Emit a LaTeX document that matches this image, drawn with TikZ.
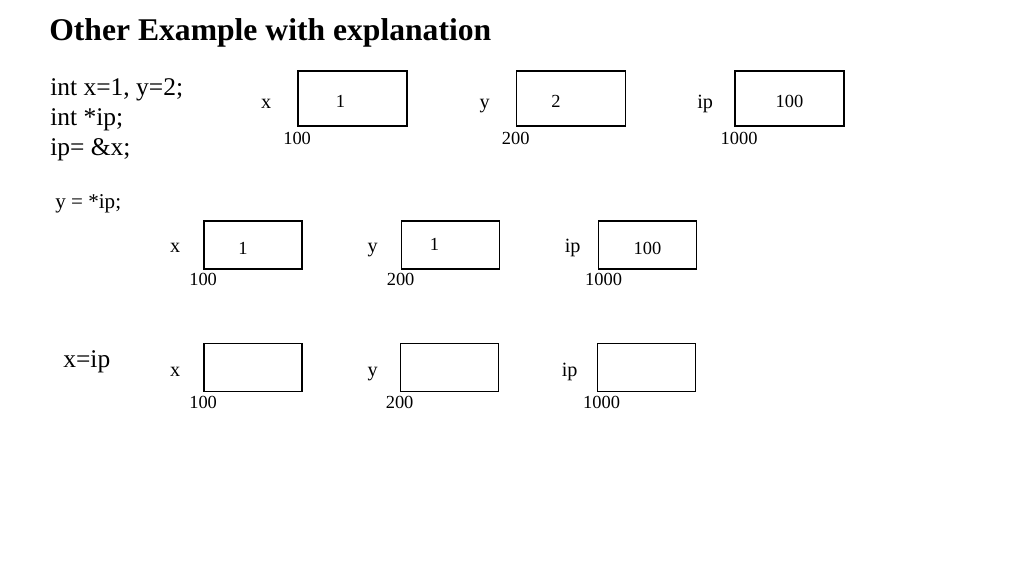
\documentclass[tikz,border=0pt]{standalone}
\usepackage{fontspec}
\setmainfont{Liberation Serif}
\usetikzlibrary{calc,positioning}
\tikzset{
  cell/.style={draw,line width=1pt,minimum width=2.18cm,minimum height=1.1cm,inner sep=0pt},
  smallcell/.style={cell,minimum width=1.96cm,minimum height=0.96cm},
  var/.style={font=\fontsize{11.5}{13}\selectfont,inner sep=0pt,anchor=base},
  addr/.style={font=\fontsize{10.5}{12}\selectfont,inner sep=0pt},
  val/.style={font=\fontsize{10.5}{12}\selectfont,inner sep=0pt},
  code/.style={font=\fontsize{14.5}{17}\selectfont,anchor=west,inner sep=0pt},
  heading/.style={font=\fontsize{18}{21}\selectfont\bfseries,anchor=west,inner sep=0pt}
}
\begin{document}
\begin{tikzpicture}[x=0.02cm,y=-0.02cm]
	\useasboundingbox (0,0) rectangle (1024,576);
	\node[heading] (title) at (49,33) {Other Example with explanation};
	\node[code] (c1) at (50,90) {int x=1, y=2;};
	\node[code] (c2) at (50,120) {int *ip;};
	\node[code] (c3) at (50,150) {ip= \&x;};
	\node[code,font=\fontsize{12}{14}\selectfont] (c4) at (55,204) {y = *ip;};
	\node[code] (c5) at (63,362) {x=ip};
	% first row
	\node[cell] (x1) at (352.5,98.5) {};
	\node[cell] (y1) at (571,98.5) {};
	\node[cell] (ip1) at (789.5,98.5) {};
	\node[var] at ($(x1.west)+(-31,9.5)$) {x};
	\node[var] at ($(y1.west)+(-31,9.5)$) {y};
	\node[var] at ($(ip1.west)+(-29,9.5)$) {ip};
	\node[addr,below=0.1cm of x1.south west] {100};
	\node[addr,below=0.1cm of y1.south west] {200};
	\node[addr,below=0.1cm of ip1.south west,xshift=0.1cm] {1000};
	\node[val] at ($(x1)+(-12,3)$) {1};
	\node[val] at ($(y1)+(-15,3)$) {2};
	\node[val] at ($(ip1)+(0,3)$) {100};
	% second row
	\node[smallcell] (x2) at (253,245) {};
	\node[smallcell] (y2) at (450.5,245) {};
	\node[smallcell] (ip2) at (647.5,245) {};
	\node[var] at ($(x2.west)+(-28,7)$) {x};
	\node[var] at ($(y2.west)+(-28,7)$) {y};
	\node[var] at ($(ip2.west)+(-25,7)$) {ip};
	\node[addr,below=0.06cm of x2.south west] {100};
	\node[addr,below=0.06cm of y2.south west] {200};
	\node[addr,below=0.06cm of ip2.south west,xshift=0.12cm] {1000};
	\node[val] at ($(x2)+(-10,3)$) {1};
	\node[val] at ($(y2)+(-16,-1)$) {1};
	\node[val] at ($(ip2)+(0,3)$) {100};
	% third row
	\node[smallcell] (x3) at (253,367.5) {};
	\node[smallcell] (y3) at (449.5,367.5) {};
	\node[smallcell] (ip3) at (646.5,367.5) {};
	\node[var] at ($(x3.west)+(-28,8.5)$) {x};
	\node[var] at ($(y3.west)+(-27,8.5)$) {y};
	\node[var] at ($(ip3.west)+(-27,8.5)$) {ip};
	\node[addr,below=0.06cm of x3.south west] {100};
	\node[addr,below=0.06cm of y3.south west] {200};
	\node[addr,below=0.06cm of ip3.south west,xshift=0.1cm] {1000};
\end{tikzpicture}
\end{document}
